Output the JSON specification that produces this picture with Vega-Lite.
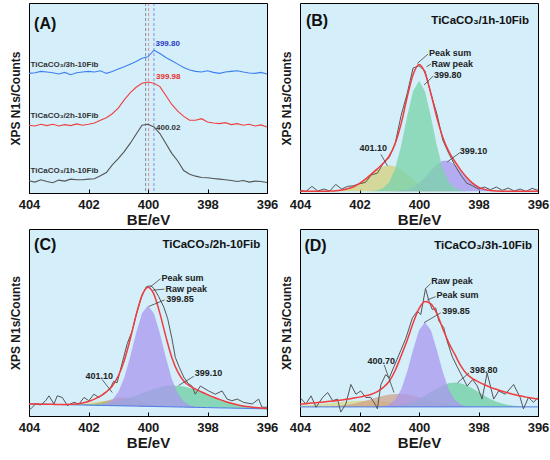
{
  "$schema": "https://vega.github.io/schema/vega-lite/v6.json",
  "padding": {"left": 8, "top": 2, "right": 4, "bottom": 0},
  "spacing": 0,
  "datasets": {
    "A": [
      {"x": 404.0, "g": 37, "r": 205, "b": 362},
      {"x": 403.8, "g": 33, "r": 203, "b": 364},
      {"x": 403.6, "g": 40, "r": 208, "b": 368},
      {"x": 403.4, "g": 35, "r": 204, "b": 366},
      {"x": 403.2, "g": 31, "r": 208, "b": 364},
      {"x": 403.0, "g": 39, "r": 203, "b": 360},
      {"x": 402.8, "g": 36, "r": 207, "b": 365},
      {"x": 402.6, "g": 42, "r": 204, "b": 358},
      {"x": 402.4, "g": 40, "r": 209, "b": 364},
      {"x": 402.2, "g": 40, "r": 205, "b": 366},
      {"x": 402.0, "g": 42, "r": 208, "b": 368},
      {"x": 401.8, "g": 43, "r": 212, "b": 366},
      {"x": 401.6, "g": 52, "r": 220, "b": 370},
      {"x": 401.4, "g": 62, "r": 228, "b": 362},
      {"x": 401.2, "g": 85, "r": 240, "b": 368},
      {"x": 401.0, "g": 104, "r": 257, "b": 375},
      {"x": 400.8, "g": 125, "r": 282, "b": 382},
      {"x": 400.6, "g": 150, "r": 303, "b": 390},
      {"x": 400.4, "g": 178, "r": 320, "b": 398},
      {"x": 400.2, "g": 205, "r": 332, "b": 408},
      {"x": 400.0, "g": 208, "r": 336, "b": 412},
      {"x": 399.8, "g": 200, "r": 332, "b": 432},
      {"x": 399.6, "g": 180, "r": 322, "b": 422},
      {"x": 399.4, "g": 150, "r": 295, "b": 410},
      {"x": 399.2, "g": 120, "r": 268, "b": 400},
      {"x": 399.0, "g": 97, "r": 248, "b": 390},
      {"x": 398.8, "g": 68, "r": 232, "b": 380},
      {"x": 398.6, "g": 57, "r": 220, "b": 372},
      {"x": 398.4, "g": 51, "r": 220, "b": 368},
      {"x": 398.2, "g": 47, "r": 225, "b": 366},
      {"x": 398.0, "g": 46, "r": 215, "b": 370},
      {"x": 397.8, "g": 44, "r": 212, "b": 365},
      {"x": 397.6, "g": 42, "r": 210, "b": 362},
      {"x": 397.4, "g": 40, "r": 213, "b": 366},
      {"x": 397.2, "g": 38, "r": 207, "b": 368},
      {"x": 397.0, "g": 35, "r": 210, "b": 370},
      {"x": 396.8, "g": 38, "r": 205, "b": 366},
      {"x": 396.6, "g": 33, "r": 208, "b": 363},
      {"x": 396.4, "g": 36, "r": 203, "b": 362},
      {"x": 396.2, "g": 35, "r": 206, "b": 365},
      {"x": 396.0, "g": 32, "r": 200, "b": 360}
    ],
    "ruleA": [
      {"x": 400.08, "s": "k"},
      {"x": 399.98, "s": "red"},
      {"x": 399.8, "s": "blue"}
    ],
    "B": [
      {"x": 404.0, "base": 5, "ye": 5, "gr": 5, "pu": 5, "sum": 5, "raw": 8},
      {"x": 403.8, "base": 5, "ye": 5, "gr": 5, "pu": 5, "sum": 5, "raw": 5},
      {"x": 403.6, "base": 5, "ye": 5, "gr": 5, "pu": 5, "sum": 5, "raw": 20},
      {"x": 403.4, "base": 5, "ye": 5, "gr": 5, "pu": 5, "sum": 5, "raw": 6},
      {"x": 403.2, "base": 5, "ye": 5, "gr": 5, "pu": 5, "sum": 5, "raw": 12},
      {"x": 403.0, "base": 5, "ye": 5.7, "gr": 5, "pu": 5, "sum": 5.7, "raw": 6},
      {"x": 402.8, "base": 5, "ye": 6.7, "gr": 5, "pu": 5, "sum": 6.7, "raw": 26},
      {"x": 402.6, "base": 5, "ye": 9, "gr": 5, "pu": 5, "sum": 9, "raw": 12},
      {"x": 402.4, "base": 5, "ye": 13, "gr": 5, "pu": 5, "sum": 13, "raw": 20},
      {"x": 402.2, "base": 5, "ye": 19, "gr": 5, "pu": 5, "sum": 19, "raw": 22},
      {"x": 402.0, "base": 5, "ye": 29, "gr": 5, "pu": 5, "sum": 29, "raw": 28},
      {"x": 401.8, "base": 5, "ye": 42, "gr": 5.1, "pu": 5, "sum": 42, "raw": 32},
      {"x": 401.6, "base": 5, "ye": 57, "gr": 5.6, "pu": 5, "sum": 57.6, "raw": 55},
      {"x": 401.4, "base": 5, "ye": 70, "gr": 8, "pu": 5, "sum": 73, "raw": 60},
      {"x": 401.2, "base": 5, "ye": 80, "gr": 15, "pu": 5, "sum": 90, "raw": 90},
      {"x": 401.0, "base": 5, "ye": 84, "gr": 33, "pu": 5.2, "sum": 112, "raw": 108},
      {"x": 400.8, "base": 5, "ye": 80, "gr": 74, "pu": 5.8, "sum": 150, "raw": 150},
      {"x": 400.6, "base": 5, "ye": 70, "gr": 143, "pu": 7.3, "sum": 210, "raw": 235},
      {"x": 400.4, "base": 5, "ye": 57, "gr": 231, "pu": 11, "sum": 289, "raw": 300},
      {"x": 400.2, "base": 5, "ye": 42, "gr": 308, "pu": 18, "sum": 358, "raw": 378},
      {"x": 400.0, "base": 5, "ye": 29, "gr": 340, "pu": 30, "sum": 389, "raw": 385},
      {"x": 399.8, "base": 5, "ye": 19, "gr": 308, "pu": 47, "sum": 364, "raw": 370},
      {"x": 399.6, "base": 5, "ye": 13, "gr": 231, "pu": 67, "sum": 301, "raw": 300},
      {"x": 399.4, "base": 5, "ye": 9, "gr": 143, "pu": 86, "sum": 228, "raw": 240},
      {"x": 399.2, "base": 5, "ye": 6.7, "gr": 74, "pu": 97.5, "sum": 168, "raw": 160},
      {"x": 399.0, "base": 5, "ye": 5.7, "gr": 33, "pu": 97.5, "sum": 126, "raw": 120},
      {"x": 398.8, "base": 5, "ye": 5, "gr": 15, "pu": 86, "sum": 96, "raw": 85},
      {"x": 398.6, "base": 5, "ye": 5, "gr": 8, "pu": 67, "sum": 70, "raw": 55},
      {"x": 398.4, "base": 5, "ye": 5, "gr": 5.6, "pu": 47, "sum": 47.6, "raw": 30},
      {"x": 398.2, "base": 5, "ye": 5, "gr": 5.1, "pu": 30, "sum": 30, "raw": 22},
      {"x": 398.0, "base": 5, "ye": 5, "gr": 5, "pu": 18, "sum": 18, "raw": 12},
      {"x": 397.8, "base": 5, "ye": 5, "gr": 5, "pu": 11, "sum": 11, "raw": 18},
      {"x": 397.6, "base": 5, "ye": 5, "gr": 5, "pu": 7.3, "sum": 7.3, "raw": 10},
      {"x": 397.4, "base": 5, "ye": 5, "gr": 5, "pu": 5.8, "sum": 5.8, "raw": 18},
      {"x": 397.2, "base": 5, "ye": 5, "gr": 5, "pu": 5.2, "sum": 5.2, "raw": 8},
      {"x": 397.0, "base": 5, "ye": 5, "gr": 5, "pu": 5, "sum": 5, "raw": 15},
      {"x": 396.8, "base": 5, "ye": 5, "gr": 5, "pu": 5, "sum": 5, "raw": 6},
      {"x": 396.6, "base": 5, "ye": 5, "gr": 5, "pu": 5, "sum": 5, "raw": 12},
      {"x": 396.4, "base": 5, "ye": 5, "gr": 5, "pu": 5, "sum": 5, "raw": 5},
      {"x": 396.2, "base": 5, "ye": 5, "gr": 5, "pu": 5, "sum": 5, "raw": 14},
      {"x": 396.0, "base": 5, "ye": 5, "gr": 5, "pu": 5, "sum": 5, "raw": 8}
    ],
    "C": [
      {"x": 404.0, "base": 37.2, "ye": 37.2, "br": 37.2, "gr": 37.2, "pu": 37.2, "sum": 37.2},
      {"x": 403.8, "base": 36.8, "ye": 36.8, "br": 36.8, "gr": 36.8, "pu": 36.8, "sum": 36.8},
      {"x": 403.6, "base": 36.4, "ye": 36.4, "br": 36.4, "gr": 36.4, "pu": 36.4, "sum": 36.4},
      {"x": 403.4, "base": 36.1, "ye": 36.1, "br": 36.1, "gr": 36.1, "pu": 36.1, "sum": 36.1},
      {"x": 403.2, "base": 35.7, "ye": 35.7, "br": 35.7, "gr": 35.8, "pu": 35.7, "sum": 35.8},
      {"x": 403.0, "base": 35.3, "ye": 35.4, "br": 35.3, "gr": 35.5, "pu": 35.3, "sum": 35.6},
      {"x": 402.8, "base": 34.9, "ye": 35.2, "br": 35.0, "gr": 35.2, "pu": 34.9, "sum": 35.6},
      {"x": 402.6, "base": 34.5, "ye": 35.3, "br": 34.6, "gr": 34.9, "pu": 34.5, "sum": 35.8},
      {"x": 402.4, "base": 34.2, "ye": 36.1, "br": 34.6, "gr": 34.9, "pu": 34.2, "sum": 37.2},
      {"x": 402.2, "base": 33.8, "ye": 37.7, "br": 34.8, "gr": 35.0, "pu": 33.8, "sum": 39.9},
      {"x": 402.0, "base": 33.4, "ye": 40.2, "br": 35.8, "gr": 35.4, "pu": 33.5, "sum": 44.7},
      {"x": 401.8, "base": 33.0, "ye": 43.2, "br": 37.9, "gr": 36.3, "pu": 33.5, "sum": 51.9},
      {"x": 401.6, "base": 32.6, "ye": 45.5, "br": 41.5, "gr": 37.6, "pu": 34.6, "sum": 61.4},
      {"x": 401.4, "base": 32.3, "ye": 46.3, "br": 46.6, "gr": 39.7, "pu": 38.3, "sum": 74},
      {"x": 401.2, "base": 31.9, "ye": 44.8, "br": 51.8, "gr": 42.6, "pu": 48.9, "sum": 92.4},
      {"x": 401.0, "base": 31.5, "ye": 41.7, "br": 55.8, "gr": 46.4, "pu": 73.5, "sum": 122.9},
      {"x": 400.8, "base": 31.1, "ye": 37.9, "br": 57.1, "gr": 51.1, "pu": 117.1, "sum": 169.9},
      {"x": 400.6, "base": 30.7, "ye": 34.6, "br": 55.0, "gr": 56.7, "pu": 181.7, "sum": 235.9},
      {"x": 400.4, "base": 30.4, "ye": 32.3, "br": 50.3, "gr": 63.2, "pu": 255.4, "sum": 310},
      {"x": 400.2, "base": 30.0, "ye": 30.8, "br": 44.3, "gr": 70, "pu": 316, "sum": 371},
      {"x": 400.0, "base": 29.6, "ye": 29.9, "br": 38.5, "gr": 76.8, "pu": 339.6, "sum": 396},
      {"x": 399.8, "base": 29.2, "ye": 29.2, "br": 34.1, "gr": 83.1, "pu": 315.2, "sum": 374},
      {"x": 399.6, "base": 28.8, "ye": 28.8, "br": 31.2, "gr": 88.3, "pu": 253.8, "sum": 315.7},
      {"x": 399.4, "base": 28.5, "ye": 28.5, "br": 29.5, "gr": 92.1, "pu": 179.5, "sum": 244.1},
      {"x": 399.2, "base": 28.1, "ye": 28.1, "br": 28.5, "gr": 93.8, "pu": 114.1, "sum": 180.2},
      {"x": 399.0, "base": 27.7, "ye": 27.7, "br": 27.8, "gr": 93.4, "pu": 69.7, "sum": 135.5},
      {"x": 398.8, "base": 27.3, "ye": 27.3, "br": 27.3, "gr": 90.9, "pu": 44.3, "sum": 107.9},
      {"x": 398.6, "base": 26.9, "ye": 26.9, "br": 26.9, "gr": 86.4, "pu": 32.9, "sum": 92.4},
      {"x": 398.4, "base": 26.6, "ye": 26.6, "br": 26.6, "gr": 80.5, "pu": 28.6, "sum": 82.5},
      {"x": 398.2, "base": 26.2, "ye": 26.2, "br": 26.2, "gr": 73.4, "pu": 26.7, "sum": 73.9},
      {"x": 398.0, "base": 25.8, "ye": 25.8, "br": 25.8, "gr": 65.8, "pu": 25.8, "sum": 65.8},
      {"x": 397.8, "base": 25.4, "ye": 25.4, "br": 25.4, "gr": 58.2, "pu": 25.4, "sum": 58.2},
      {"x": 397.6, "base": 25.0, "ye": 25.0, "br": 25.0, "gr": 51, "pu": 25.0, "sum": 51},
      {"x": 397.4, "base": 24.7, "ye": 24.7, "br": 24.7, "gr": 44.7, "pu": 24.7, "sum": 44.7},
      {"x": 397.2, "base": 24.3, "ye": 24.3, "br": 24.3, "gr": 39.2, "pu": 24.3, "sum": 39.2},
      {"x": 397.0, "base": 23.9, "ye": 23.9, "br": 23.9, "gr": 34.6, "pu": 23.9, "sum": 34.6},
      {"x": 396.8, "base": 23.5, "ye": 23.5, "br": 23.5, "gr": 30.9, "pu": 23.5, "sum": 30.9},
      {"x": 396.6, "base": 23.1, "ye": 23.1, "br": 23.1, "gr": 28.1, "pu": 23.1, "sum": 28.1},
      {"x": 396.4, "base": 22.8, "ye": 22.8, "br": 22.8, "gr": 26.1, "pu": 22.8, "sum": 26.1},
      {"x": 396.2, "base": 22.4, "ye": 22.4, "br": 22.4, "gr": 24.4, "pu": 22.4, "sum": 24.4},
      {"x": 396.0, "base": 22.0, "ye": 22.0, "br": 22.0, "gr": 23.2, "pu": 22.0, "sum": 23.2}
    ],
    "Craw": [
      {"x": 404.0, "raw": 20}, {"x": 403.94, "raw": 22}, {"x": 403.78, "raw": 37}, {"x": 403.6, "raw": 34},
      {"x": 403.44, "raw": 47}, {"x": 403.33, "raw": 62}, {"x": 403.16, "raw": 37}, {"x": 403.05, "raw": 62},
      {"x": 402.88, "raw": 57}, {"x": 402.71, "raw": 32}, {"x": 402.49, "raw": 42}, {"x": 402.32, "raw": 37},
      {"x": 402.15, "raw": 57}, {"x": 401.99, "raw": 47}, {"x": 401.82, "raw": 67}, {"x": 401.65, "raw": 57},
      {"x": 401.43, "raw": 72}, {"x": 401.26, "raw": 87}, {"x": 401.15, "raw": 107}, {"x": 401.04, "raw": 102},
      {"x": 400.87, "raw": 162}, {"x": 400.7, "raw": 222}, {"x": 400.53, "raw": 262}, {"x": 400.4, "raw": 310},
      {"x": 400.2, "raw": 372}, {"x": 400.05, "raw": 398}, {"x": 399.9, "raw": 400}, {"x": 399.8, "raw": 392},
      {"x": 399.64, "raw": 367}, {"x": 399.47, "raw": 335}, {"x": 399.34, "raw": 300}, {"x": 399.2, "raw": 240},
      {"x": 399.08, "raw": 180}, {"x": 398.95, "raw": 150}, {"x": 398.8, "raw": 120}, {"x": 398.65, "raw": 100},
      {"x": 398.52, "raw": 92}, {"x": 398.41, "raw": 67}, {"x": 398.24, "raw": 92}, {"x": 397.96, "raw": 77},
      {"x": 397.74, "raw": 67}, {"x": 397.51, "raw": 77}, {"x": 397.34, "raw": 52}, {"x": 397.18, "raw": 47},
      {"x": 397.0, "raw": 52}, {"x": 396.79, "raw": 42}, {"x": 396.5, "raw": 37}, {"x": 396.28, "raw": 52},
      {"x": 396.17, "raw": 27}, {"x": 396.0, "raw": 27}
    ],
    "D": [
      {"x": 404.0, "base": 28, "ye": 31.5, "br": 28, "gr": 28, "pu": 28, "sum": 37},
      {"x": 403.8, "base": 28, "ye": 32.7, "br": 28.1, "gr": 28, "pu": 28, "sum": 38},
      {"x": 403.6, "base": 28, "ye": 34.2, "br": 28.2, "gr": 28, "pu": 28, "sum": 40},
      {"x": 403.4, "base": 28, "ye": 35.8, "br": 28.4, "gr": 28, "pu": 28, "sum": 41.5},
      {"x": 403.2, "base": 28, "ye": 37.6, "br": 28.8, "gr": 28, "pu": 28, "sum": 43},
      {"x": 403.0, "base": 28, "ye": 39.5, "br": 29.5, "gr": 28, "pu": 28, "sum": 45},
      {"x": 402.8, "base": 28, "ye": 41.4, "br": 30.6, "gr": 28, "pu": 28, "sum": 47},
      {"x": 402.6, "base": 28, "ye": 43.2, "br": 32.3, "gr": 28, "pu": 28, "sum": 49.5},
      {"x": 402.4, "base": 28, "ye": 44.8, "br": 34.7, "gr": 28, "pu": 28, "sum": 52},
      {"x": 402.2, "base": 28, "ye": 46, "br": 38, "gr": 28, "pu": 28, "sum": 55},
      {"x": 402.0, "base": 28, "ye": 46.7, "br": 42.1, "gr": 28, "pu": 28, "sum": 58},
      {"x": 401.8, "base": 28, "ye": 47, "br": 47, "gr": 28, "pu": 28, "sum": 62},
      {"x": 401.6, "base": 28, "ye": 46.7, "br": 52.3, "gr": 28.1, "pu": 28.1, "sum": 67},
      {"x": 401.4, "base": 28, "ye": 46, "br": 57.6, "gr": 28.4, "pu": 28.5, "sum": 75},
      {"x": 401.2, "base": 28, "ye": 44.8, "br": 62.3, "gr": 28.8, "pu": 30, "sum": 88},
      {"x": 401.0, "base": 28, "ye": 43.2, "br": 65.8, "gr": 29.7, "pu": 35.4, "sum": 107},
      {"x": 400.8, "base": 28, "ye": 41.4, "br": 67.8, "gr": 31.3, "pu": 50, "sum": 140},
      {"x": 400.6, "base": 28, "ye": 39.5, "br": 67.8, "gr": 34, "pu": 81.6, "sum": 185},
      {"x": 400.4, "base": 28, "ye": 37.6, "br": 65.8, "gr": 38.1, "pu": 135, "sum": 232},
      {"x": 400.2, "base": 28, "ye": 35.8, "br": 62.3, "gr": 44.2, "pu": 203, "sum": 285},
      {"x": 400.0, "base": 28, "ye": 34.2, "br": 57.6, "gr": 52.4, "pu": 264, "sum": 330},
      {"x": 399.8, "base": 28, "ye": 32.7, "br": 52.3, "gr": 62.4, "pu": 288, "sum": 352},
      {"x": 399.6, "base": 28, "ye": 31.5, "br": 47, "gr": 73.5, "pu": 264, "sum": 345},
      {"x": 399.4, "base": 28, "ye": 30.6, "br": 42.1, "gr": 84.6, "pu": 203, "sum": 315},
      {"x": 399.2, "base": 28, "ye": 29.8, "br": 38, "gr": 94, "pu": 135, "sum": 268},
      {"x": 399.0, "base": 28, "ye": 29.2, "br": 34.7, "gr": 100.7, "pu": 81.6, "sum": 225},
      {"x": 398.8, "base": 28, "ye": 28.8, "br": 32.3, "gr": 103, "pu": 50, "sum": 190},
      {"x": 398.6, "base": 28, "ye": 28.5, "br": 30.6, "gr": 100.7, "pu": 35.4, "sum": 155},
      {"x": 398.4, "base": 28, "ye": 28.3, "br": 29.5, "gr": 94, "pu": 30, "sum": 130},
      {"x": 398.2, "base": 28, "ye": 28, "br": 28.8, "gr": 84.6, "pu": 28.5, "sum": 115},
      {"x": 398.0, "base": 28, "ye": 28, "br": 28.4, "gr": 73.5, "pu": 28.1, "sum": 105},
      {"x": 397.8, "base": 28, "ye": 28, "br": 28.2, "gr": 62.4, "pu": 28, "sum": 96},
      {"x": 397.6, "base": 28, "ye": 28, "br": 28, "gr": 52.4, "pu": 28, "sum": 88},
      {"x": 397.4, "base": 28, "ye": 28, "br": 28, "gr": 44.2, "pu": 28, "sum": 82},
      {"x": 397.2, "base": 28, "ye": 28, "br": 28, "gr": 38.1, "pu": 28, "sum": 76},
      {"x": 397.0, "base": 28, "ye": 28, "br": 28, "gr": 34, "pu": 28, "sum": 71},
      {"x": 396.8, "base": 28, "ye": 28, "br": 28, "gr": 31.3, "pu": 28, "sum": 66},
      {"x": 396.6, "base": 28, "ye": 28, "br": 28, "gr": 29.7, "pu": 28, "sum": 62},
      {"x": 396.4, "base": 28, "ye": 28, "br": 28, "gr": 28.8, "pu": 28, "sum": 58},
      {"x": 396.2, "base": 28, "ye": 28, "br": 28, "gr": 28.4, "pu": 28, "sum": 55},
      {"x": 396.0, "base": 28, "ye": 28, "br": 28, "gr": 28.2, "pu": 28, "sum": 52}
    ],
    "Draw": [
      {"x": 404.0, "raw": 57}, {"x": 403.8, "raw": 37}, {"x": 403.63, "raw": 62}, {"x": 403.46, "raw": 27},
      {"x": 403.24, "raw": 57}, {"x": 403.07, "raw": 72}, {"x": 402.9, "raw": 47}, {"x": 402.74, "raw": 52},
      {"x": 402.63, "raw": 12}, {"x": 402.46, "raw": 37}, {"x": 402.29, "raw": 97}, {"x": 402.12, "raw": 67},
      {"x": 401.96, "raw": 77}, {"x": 401.79, "raw": 57}, {"x": 401.62, "raw": 57}, {"x": 401.45, "raw": 32},
      {"x": 401.4, "raw": 22}, {"x": 401.28, "raw": 97}, {"x": 401.12, "raw": 127}, {"x": 401.0, "raw": 117},
      {"x": 400.84, "raw": 152}, {"x": 400.61, "raw": 202}, {"x": 400.45, "raw": 237}, {"x": 400.22, "raw": 302},
      {"x": 400.06, "raw": 322}, {"x": 399.94, "raw": 312}, {"x": 399.78, "raw": 392}, {"x": 399.66, "raw": 352},
      {"x": 399.55, "raw": 327}, {"x": 399.44, "raw": 332}, {"x": 399.33, "raw": 292}, {"x": 399.17, "raw": 272},
      {"x": 399.06, "raw": 232}, {"x": 398.88, "raw": 182}, {"x": 398.72, "raw": 152}, {"x": 398.55, "raw": 122},
      {"x": 398.38, "raw": 92}, {"x": 398.2, "raw": 112}, {"x": 398.04, "raw": 92}, {"x": 397.88, "raw": 52},
      {"x": 397.71, "raw": 132}, {"x": 397.49, "raw": 52}, {"x": 397.32, "raw": 77}, {"x": 397.1, "raw": 67},
      {"x": 396.82, "raw": 97}, {"x": 396.6, "raw": 57}, {"x": 396.49, "raw": 22}, {"x": 396.32, "raw": 57},
      {"x": 396.15, "raw": 42}, {"x": 396.0, "raw": 57}
    ],
    "labels": [
      {"p": "A", "k": "letter", "s": "k", "x": 403.83, "y": 512, "t": "(A)"},
      {"p": "A", "k": "note", "s": "k", "x": 403.95, "y": 387, "t": "TiCaCO₃/3h-10Fib"},
      {"p": "A", "k": "note", "s": "k", "x": 403.95, "y": 232, "t": "TiCaCO₃/2h-10Fib"},
      {"p": "A", "k": "note", "s": "k", "x": 403.95, "y": 67, "t": "TiCaCO₃/1h-10Fib"},
      {"p": "A", "k": "note", "s": "blue", "x": 399.75, "y": 452, "t": "399.80"},
      {"p": "A", "k": "note", "s": "red", "x": 399.73, "y": 352, "t": "399.98"},
      {"p": "A", "k": "note", "s": "k", "x": 399.73, "y": 197, "t": "400.02"},
      {"p": "B", "k": "letter", "s": "k", "x": 403.8, "y": 522, "t": "(B)"},
      {"p": "B", "k": "title", "s": "k", "x": 396.3, "y": 522, "t": "TiCaCO₃/1h-10Fib"},
      {"p": "B", "k": "note", "s": "k", "x": 399.66, "y": 425, "t": "Peak sum"},
      {"p": "B", "k": "note", "s": "k", "x": 399.58, "y": 389, "t": "Raw peak"},
      {"p": "B", "k": "note", "s": "k", "x": 399.5, "y": 357, "t": "399.80"},
      {"p": "B", "k": "note", "s": "k", "x": 402.0, "y": 137, "t": "401.10"},
      {"p": "B", "k": "note", "s": "k", "x": 398.63, "y": 127, "t": "399.10"},
      {"p": "C", "k": "letter", "s": "k", "x": 403.83, "y": 527, "t": "(C)"},
      {"p": "C", "k": "title", "s": "k", "x": 396.23, "y": 527, "t": "TiCaCO₃/2h-10Fib"},
      {"p": "C", "k": "note", "s": "k", "x": 399.55, "y": 424, "t": "Peak sum"},
      {"p": "C", "k": "note", "s": "k", "x": 399.41, "y": 392, "t": "Raw peak"},
      {"p": "C", "k": "note", "s": "k", "x": 399.39, "y": 360, "t": "399.85"},
      {"p": "C", "k": "note", "s": "k", "x": 402.1, "y": 124, "t": "401.10"},
      {"p": "C", "k": "note", "s": "k", "x": 398.43, "y": 132, "t": "399.10"},
      {"p": "D", "k": "letter", "s": "k", "x": 403.85, "y": 524, "t": "(D)"},
      {"p": "D", "k": "title", "s": "k", "x": 396.2, "y": 524, "t": "TiCaCO₃/3h-10Fib"},
      {"p": "D", "k": "note", "s": "k", "x": 399.59, "y": 414, "t": "Raw peak"},
      {"p": "D", "k": "note", "s": "k", "x": 399.41, "y": 372, "t": "Peak sum"},
      {"p": "D", "k": "note", "s": "k", "x": 399.22, "y": 322, "t": "399.85"},
      {"p": "D", "k": "note", "s": "k", "x": 401.73, "y": 169, "t": "400.70"},
      {"p": "D", "k": "note", "s": "k", "x": 398.29, "y": 140, "t": "398.80"}
    ],
    "leaders": [
      {"p": "B", "x": 400.06, "y": 392, "x2": 399.7, "y2": 420},
      {"p": "B", "x": 399.75, "y": 382, "x2": 399.6, "y2": 390},
      {"p": "B", "x": 399.83, "y": 327, "x2": 399.52, "y2": 354},
      {"p": "B", "x": 401.28, "y": 117, "x2": 401.06, "y2": 82},
      {"p": "B", "x": 398.63, "y": 122, "x2": 399.05, "y2": 94},
      {"p": "C", "x": 399.92, "y": 397, "x2": 399.58, "y2": 422},
      {"p": "C", "x": 399.84, "y": 387, "x2": 399.45, "y2": 390},
      {"p": "C", "x": 399.97, "y": 337, "x2": 399.44, "y2": 357},
      {"p": "C", "x": 401.54, "y": 112, "x2": 401.2, "y2": 72},
      {"p": "C", "x": 398.46, "y": 122, "x2": 398.97, "y2": 94},
      {"p": "D", "x": 399.78, "y": 392, "x2": 399.61, "y2": 407},
      {"p": "D", "x": 399.72, "y": 357, "x2": 399.44, "y2": 367},
      {"p": "D", "x": 399.83, "y": 287, "x2": 399.27, "y2": 317},
      {"p": "D", "x": 401.17, "y": 157, "x2": 400.84, "y2": 72},
      {"p": "D", "x": 398.32, "y": 132, "x2": 398.71, "y2": 102}
    ]
  },
  "vconcat": [
    {
      "spacing": 0,
      "hconcat": [
        {
          "width": 238,
          "height": 190,
          "layer": [
            {
              "data": {"name": "ruleA"},
              "mark": {"type": "rule", "strokeDash": [3, 2], "strokeWidth": 1, "opacity": 0.5},
              "encoding": {
                "x": {"field": "x", "type": "quantitative", "title": "BE/eV", "scale": {"domain": [396, 404], "reverse": true, "nice": false, "zero": false}, "axis": {"values": [396, 397, 398, 399, 400, 401, 402, 403, 404], "labelExpr": "datum.value % 2 === 0 ? datum.label : ''"}},
                "color": {"field": "s", "type": "nominal", "legend": null, "scale": {"domain": ["k", "red", "blue"], "range": ["#333333", "#e8302f", "#2b3bc4"]}}
              }
            },
            {
              "data": {"name": "A"},
              "mark": {"type": "line", "color": "#555555", "strokeWidth": 1.1},
              "encoding": {
                "x": {"field": "x", "type": "quantitative", "title": "BE/eV"},
                "y": {"field": "g", "type": "quantitative", "title": "XPS N1s/Counts", "scale": {"domain": [0, 575], "nice": false}}
              }
            },
            {
              "data": {"name": "A"},
              "mark": {"type": "line", "color": "#ef4040", "strokeWidth": 1.1},
              "encoding": {
                "x": {"field": "x", "type": "quantitative", "title": "BE/eV"},
                "y": {"field": "r", "type": "quantitative", "title": "XPS N1s/Counts"}
              }
            },
            {
              "data": {"name": "A"},
              "mark": {"type": "line", "color": "#3d7ff0", "strokeWidth": 1.1},
              "encoding": {
                "x": {"field": "x", "type": "quantitative", "title": "BE/eV"},
                "y": {"field": "b", "type": "quantitative", "title": "XPS N1s/Counts"}
              }
            },
            {
              "data": {"name": "labels"},
              "transform": [{"filter": "datum.p === 'A' && datum.k === 'note'"}],
              "mark": {"type": "text", "align": "left", "baseline": "middle", "fontSize": 8, "fontWeight": "bold", "font": "Liberation Sans"},
              "encoding": {
                "x": {"field": "x", "type": "quantitative", "title": "BE/eV"},
                "y": {"field": "y", "type": "quantitative", "title": "XPS N1s/Counts"},
                "text": {"field": "t"},
                "color": {"field": "s", "type": "nominal", "legend": null}
              }
            },
            {
              "data": {"name": "labels"},
              "transform": [{"filter": "datum.p === 'A' && datum.k === 'letter'"}],
              "mark": {"type": "text", "align": "left", "baseline": "middle", "fontSize": 16, "fontWeight": "bold", "font": "Liberation Sans", "color": "#111111"},
              "encoding": {
                "x": {"field": "x", "type": "quantitative", "title": "BE/eV"},
                "y": {"field": "y", "type": "quantitative", "title": "XPS N1s/Counts"},
                "text": {"field": "t"}
              }
            }
          ]
        },
        {
          "width": 238,
          "height": 190,
          "layer": [
            {
              "data": {"name": "B"},
              "mark": {"type": "area", "color": "#d6cf72", "opacity": 0.7},
              "encoding": {
                "x": {"field": "x", "type": "quantitative", "title": "BE/eV", "scale": {"domain": [396, 404], "reverse": true, "nice": false, "zero": false}, "axis": {"values": [396, 397, 398, 399, 400, 401, 402, 403, 404], "labelExpr": "datum.value % 2 === 0 ? datum.label : ''"}},
                "y": {"field": "ye", "type": "quantitative", "title": "XPS N1s/Counts", "scale": {"domain": [0, 575], "nice": false}},
                "y2": {"field": "base"}
              }
            },
            {
              "data": {"name": "B"},
              "mark": {"type": "area", "color": "#a996ec", "opacity": 0.75},
              "encoding": {
                "x": {"field": "x", "type": "quantitative", "title": "BE/eV"},
                "y": {"field": "pu", "type": "quantitative", "title": "XPS N1s/Counts"},
                "y2": {"field": "base"}
              }
            },
            {
              "data": {"name": "B"},
              "mark": {"type": "area", "color": "#7dd3ad", "opacity": 0.8},
              "encoding": {
                "x": {"field": "x", "type": "quantitative", "title": "BE/eV"},
                "y": {"field": "gr", "type": "quantitative", "title": "XPS N1s/Counts"},
                "y2": {"field": "base"}
              }
            },
            {
              "data": {"name": "B"},
              "mark": {"type": "line", "color": "#555555", "strokeWidth": 1},
              "encoding": {
                "x": {"field": "x", "type": "quantitative", "title": "BE/eV"},
                "y": {"field": "raw", "type": "quantitative", "title": "XPS N1s/Counts"}
              }
            },
            {
              "data": {"name": "B"},
              "mark": {"type": "line", "color": "#f03c3c", "strokeWidth": 1.5, "interpolate": "monotone"},
              "encoding": {
                "x": {"field": "x", "type": "quantitative", "title": "BE/eV"},
                "y": {"field": "sum", "type": "quantitative", "title": "XPS N1s/Counts"}
              }
            },
            {
              "data": {"name": "leaders"},
              "transform": [{"filter": "datum.p === 'B'"}],
              "mark": {"type": "rule", "color": "#444444", "strokeWidth": 0.8},
              "encoding": {
                "x": {"field": "x", "type": "quantitative", "title": "BE/eV"},
                "y": {"field": "y", "type": "quantitative", "title": "XPS N1s/Counts"},
                "x2": {"field": "x2"},
                "y2": {"field": "y2"}
              }
            },
            {
              "data": {"name": "labels"},
              "transform": [{"filter": "datum.p === 'B' && datum.k === 'note'"}],
              "mark": {"type": "text", "align": "left", "baseline": "middle", "fontSize": 9, "fontWeight": "bold", "font": "Liberation Sans", "color": "#222222"},
              "encoding": {
                "x": {"field": "x", "type": "quantitative", "title": "BE/eV"},
                "y": {"field": "y", "type": "quantitative", "title": "XPS N1s/Counts"},
                "text": {"field": "t"}
              }
            },
            {
              "data": {"name": "labels"},
              "transform": [{"filter": "datum.p === 'B' && datum.k === 'letter'"}],
              "mark": {"type": "text", "align": "left", "baseline": "middle", "fontSize": 16, "fontWeight": "bold", "font": "Liberation Sans", "color": "#111111"},
              "encoding": {
                "x": {"field": "x", "type": "quantitative", "title": "BE/eV"},
                "y": {"field": "y", "type": "quantitative", "title": "XPS N1s/Counts"},
                "text": {"field": "t"}
              }
            },
            {
              "data": {"name": "labels"},
              "transform": [{"filter": "datum.p === 'B' && datum.k === 'title'"}],
              "mark": {"type": "text", "align": "right", "baseline": "middle", "fontSize": 11.5, "fontWeight": "bold", "font": "Liberation Sans", "color": "#111111"},
              "encoding": {
                "x": {"field": "x", "type": "quantitative", "title": "BE/eV"},
                "y": {"field": "y", "type": "quantitative", "title": "XPS N1s/Counts"},
                "text": {"field": "t"}
              }
            }
          ]
        }
      ]
    },
    {
      "spacing": 0,
      "hconcat": [
        {
          "width": 238,
          "height": 187,
          "layer": [
            {
              "data": {"name": "C"},
              "mark": {"type": "area", "color": "#d8d77f", "opacity": 0.7},
              "encoding": {
                "x": {"field": "x", "type": "quantitative", "title": "BE/eV", "scale": {"domain": [396, 404], "reverse": true, "nice": false, "zero": false}, "axis": {"values": [396, 397, 398, 399, 400, 401, 402, 403, 404], "labelExpr": "datum.value % 2 === 0 ? datum.label : ''"}},
                "y": {"field": "ye", "type": "quantitative", "title": "XPS N1s/Counts", "scale": {"domain": [0, 575], "nice": false}},
                "y2": {"field": "base"}
              }
            },
            {
              "data": {"name": "C"},
              "mark": {"type": "area", "color": "#c09868", "opacity": 0.65},
              "encoding": {
                "x": {"field": "x", "type": "quantitative", "title": "BE/eV"},
                "y": {"field": "br", "type": "quantitative", "title": "XPS N1s/Counts"},
                "y2": {"field": "base"}
              }
            },
            {
              "data": {"name": "C"},
              "mark": {"type": "area", "color": "#74cfa8", "opacity": 0.8},
              "encoding": {
                "x": {"field": "x", "type": "quantitative", "title": "BE/eV"},
                "y": {"field": "gr", "type": "quantitative", "title": "XPS N1s/Counts"},
                "y2": {"field": "base"}
              }
            },
            {
              "data": {"name": "C"},
              "mark": {"type": "area", "color": "#a997ee", "opacity": 0.75},
              "encoding": {
                "x": {"field": "x", "type": "quantitative", "title": "BE/eV"},
                "y": {"field": "pu", "type": "quantitative", "title": "XPS N1s/Counts"},
                "y2": {"field": "base"}
              }
            },
            {
              "data": {"name": "C"},
              "mark": {"type": "line", "color": "#4f7be8", "strokeWidth": 1},
              "encoding": {
                "x": {"field": "x", "type": "quantitative", "title": "BE/eV"},
                "y": {"field": "base", "type": "quantitative", "title": "XPS N1s/Counts"}
              }
            },
            {
              "data": {"name": "Craw"},
              "mark": {"type": "line", "color": "#555555", "strokeWidth": 1},
              "encoding": {
                "x": {"field": "x", "type": "quantitative", "title": "BE/eV"},
                "y": {"field": "raw", "type": "quantitative", "title": "XPS N1s/Counts"}
              }
            },
            {
              "data": {"name": "C"},
              "mark": {"type": "line", "color": "#f03c3c", "strokeWidth": 1.5, "interpolate": "monotone"},
              "encoding": {
                "x": {"field": "x", "type": "quantitative", "title": "BE/eV"},
                "y": {"field": "sum", "type": "quantitative", "title": "XPS N1s/Counts"}
              }
            },
            {
              "data": {"name": "leaders"},
              "transform": [{"filter": "datum.p === 'C'"}],
              "mark": {"type": "rule", "color": "#444444", "strokeWidth": 0.8},
              "encoding": {
                "x": {"field": "x", "type": "quantitative", "title": "BE/eV"},
                "y": {"field": "y", "type": "quantitative", "title": "XPS N1s/Counts"},
                "x2": {"field": "x2"},
                "y2": {"field": "y2"}
              }
            },
            {
              "data": {"name": "labels"},
              "transform": [{"filter": "datum.p === 'C' && datum.k === 'note'"}],
              "mark": {"type": "text", "align": "left", "baseline": "middle", "fontSize": 9, "fontWeight": "bold", "font": "Liberation Sans", "color": "#222222"},
              "encoding": {
                "x": {"field": "x", "type": "quantitative", "title": "BE/eV"},
                "y": {"field": "y", "type": "quantitative", "title": "XPS N1s/Counts"},
                "text": {"field": "t"}
              }
            },
            {
              "data": {"name": "labels"},
              "transform": [{"filter": "datum.p === 'C' && datum.k === 'letter'"}],
              "mark": {"type": "text", "align": "left", "baseline": "middle", "fontSize": 16, "fontWeight": "bold", "font": "Liberation Sans", "color": "#111111"},
              "encoding": {
                "x": {"field": "x", "type": "quantitative", "title": "BE/eV"},
                "y": {"field": "y", "type": "quantitative", "title": "XPS N1s/Counts"},
                "text": {"field": "t"}
              }
            },
            {
              "data": {"name": "labels"},
              "transform": [{"filter": "datum.p === 'C' && datum.k === 'title'"}],
              "mark": {"type": "text", "align": "right", "baseline": "middle", "fontSize": 11.5, "fontWeight": "bold", "font": "Liberation Sans", "color": "#111111"},
              "encoding": {
                "x": {"field": "x", "type": "quantitative", "title": "BE/eV"},
                "y": {"field": "y", "type": "quantitative", "title": "XPS N1s/Counts"},
                "text": {"field": "t"}
              }
            }
          ]
        },
        {
          "width": 238,
          "height": 187,
          "layer": [
            {
              "data": {"name": "D"},
              "mark": {"type": "area", "color": "#d8d77f", "opacity": 0.7},
              "encoding": {
                "x": {"field": "x", "type": "quantitative", "title": "BE/eV", "scale": {"domain": [396, 404], "reverse": true, "nice": false, "zero": false}, "axis": {"values": [396, 397, 398, 399, 400, 401, 402, 403, 404], "labelExpr": "datum.value % 2 === 0 ? datum.label : ''"}},
                "y": {"field": "ye", "type": "quantitative", "title": "XPS N1s/Counts", "scale": {"domain": [0, 575], "nice": false}},
                "y2": {"field": "base"}
              }
            },
            {
              "data": {"name": "D"},
              "mark": {"type": "area", "color": "#d09a80", "opacity": 0.65},
              "encoding": {
                "x": {"field": "x", "type": "quantitative", "title": "BE/eV"},
                "y": {"field": "br", "type": "quantitative", "title": "XPS N1s/Counts"},
                "y2": {"field": "base"}
              }
            },
            {
              "data": {"name": "D"},
              "mark": {"type": "area", "color": "#74cfa8", "opacity": 0.8},
              "encoding": {
                "x": {"field": "x", "type": "quantitative", "title": "BE/eV"},
                "y": {"field": "gr", "type": "quantitative", "title": "XPS N1s/Counts"},
                "y2": {"field": "base"}
              }
            },
            {
              "data": {"name": "D"},
              "mark": {"type": "area", "color": "#a997ee", "opacity": 0.75},
              "encoding": {
                "x": {"field": "x", "type": "quantitative", "title": "BE/eV"},
                "y": {"field": "pu", "type": "quantitative", "title": "XPS N1s/Counts"},
                "y2": {"field": "base"}
              }
            },
            {
              "data": {"name": "D"},
              "mark": {"type": "line", "color": "#4f7be8", "strokeWidth": 1},
              "encoding": {
                "x": {"field": "x", "type": "quantitative", "title": "BE/eV"},
                "y": {"field": "base", "type": "quantitative", "title": "XPS N1s/Counts"}
              }
            },
            {
              "data": {"name": "Draw"},
              "mark": {"type": "line", "color": "#555555", "strokeWidth": 1},
              "encoding": {
                "x": {"field": "x", "type": "quantitative", "title": "BE/eV"},
                "y": {"field": "raw", "type": "quantitative", "title": "XPS N1s/Counts"}
              }
            },
            {
              "data": {"name": "D"},
              "mark": {"type": "line", "color": "#f03c3c", "strokeWidth": 1.5, "interpolate": "monotone"},
              "encoding": {
                "x": {"field": "x", "type": "quantitative", "title": "BE/eV"},
                "y": {"field": "sum", "type": "quantitative", "title": "XPS N1s/Counts"}
              }
            },
            {
              "data": {"name": "leaders"},
              "transform": [{"filter": "datum.p === 'D'"}],
              "mark": {"type": "rule", "color": "#444444", "strokeWidth": 0.8},
              "encoding": {
                "x": {"field": "x", "type": "quantitative", "title": "BE/eV"},
                "y": {"field": "y", "type": "quantitative", "title": "XPS N1s/Counts"},
                "x2": {"field": "x2"},
                "y2": {"field": "y2"}
              }
            },
            {
              "data": {"name": "labels"},
              "transform": [{"filter": "datum.p === 'D' && datum.k === 'note'"}],
              "mark": {"type": "text", "align": "left", "baseline": "middle", "fontSize": 9, "fontWeight": "bold", "font": "Liberation Sans", "color": "#222222"},
              "encoding": {
                "x": {"field": "x", "type": "quantitative", "title": "BE/eV"},
                "y": {"field": "y", "type": "quantitative", "title": "XPS N1s/Counts"},
                "text": {"field": "t"}
              }
            },
            {
              "data": {"name": "labels"},
              "transform": [{"filter": "datum.p === 'D' && datum.k === 'letter'"}],
              "mark": {"type": "text", "align": "left", "baseline": "middle", "fontSize": 16, "fontWeight": "bold", "font": "Liberation Sans", "color": "#111111"},
              "encoding": {
                "x": {"field": "x", "type": "quantitative", "title": "BE/eV"},
                "y": {"field": "y", "type": "quantitative", "title": "XPS N1s/Counts"},
                "text": {"field": "t"}
              }
            },
            {
              "data": {"name": "labels"},
              "transform": [{"filter": "datum.p === 'D' && datum.k === 'title'"}],
              "mark": {"type": "text", "align": "right", "baseline": "middle", "fontSize": 11.5, "fontWeight": "bold", "font": "Liberation Sans", "color": "#111111"},
              "encoding": {
                "x": {"field": "x", "type": "quantitative", "title": "BE/eV"},
                "y": {"field": "y", "type": "quantitative", "title": "XPS N1s/Counts"},
                "text": {"field": "t"}
              }
            }
          ]
        }
      ]
    }
  ],
  "config": {
    "view": {"stroke": "#000000", "strokeWidth": 1, "fill": "#d4eefa"},
    "axis": {
      "grid": false,
      "labelFont": "Liberation Sans",
      "titleFont": "Liberation Sans",
      "labelFontWeight": "bold",
      "titleFontWeight": "bold",
      "labelColor": "#1a1a1a",
      "titleColor": "#1a1a1a",
      "domainColor": "#000000",
      "tickColor": "#000000"
    },
    "axisX": {"labelFontSize": 13, "titleFontSize": 15, "tickSize": -4, "labelPadding": 9, "titlePadding": 1, "labelFlush": false},
    "axisY": {"labels": false, "ticks": false, "domain": false, "titleFontSize": 12, "titlePadding": 7}
  }
}
